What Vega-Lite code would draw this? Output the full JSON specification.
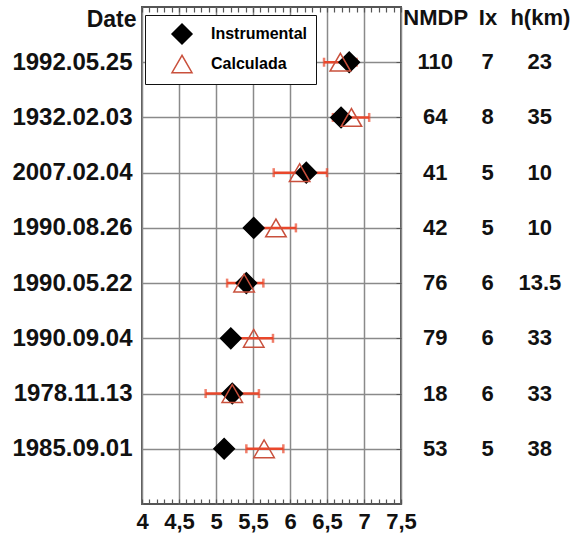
{
  "$schema": "https://vega.github.io/schema/vega-lite/v6.json",
  "background": "white",
  "padding": {"left": 5, "top": 5, "right": 5, "bottom": 0},
  "bounds": "flush",
  "spacing": 8,
  "config": {
    "font": "Liberation Sans",
    "view": {"stroke": null}
  },
  "data": {
    "values": [
      {"date": "1992.05.25", "Instrumental": 6.80, "Calculada": 6.68, "lo": 6.46, "hi": 6.90, "nmdp": 110, "ix": 7, "h": 23},
      {"date": "1932.02.03", "Instrumental": 6.69, "Calculada": 6.83, "lo": 6.58, "hi": 7.07, "nmdp": 64, "ix": 8, "h": 35},
      {"date": "2007.02.04", "Instrumental": 6.22, "Calculada": 6.13, "lo": 5.78, "hi": 6.50, "nmdp": 41, "ix": 5, "h": 10},
      {"date": "1990.08.26", "Instrumental": 5.51, "Calculada": 5.81, "lo": 5.54, "hi": 6.08, "nmdp": 42, "ix": 5, "h": 10},
      {"date": "1990.05.22", "Instrumental": 5.41, "Calculada": 5.38, "lo": 5.15, "hi": 5.64, "nmdp": 76, "ix": 6, "h": 13.5},
      {"date": "1990.09.04", "Instrumental": 5.20, "Calculada": 5.51, "lo": 5.25, "hi": 5.77, "nmdp": 79, "ix": 6, "h": 33},
      {"date": "1978.11.13", "Instrumental": 5.22, "Calculada": 5.22, "lo": 4.86, "hi": 5.58, "nmdp": 18, "ix": 6, "h": 33},
      {"date": "1985.09.01", "Instrumental": 5.11, "Calculada": 5.65, "lo": 5.41, "hi": 5.91, "nmdp": 53, "ix": 5, "h": 38}
    ]
  },
  "hconcat": [
    {
      "width": 259,
      "height": 497,
      "view": {"stroke": "#555", "strokeWidth": 2},
      "layer": [
        {
          "mark": {"type": "rule", "color": "#e9472b", "strokeWidth": 2.5},
          "encoding": {
            "y": {
              "field": "date", "type": "nominal", "sort": null,
              "scale": {"type": "point", "padding": 1},
              "axis": {
                "orient": "left", "grid": true, "gridColor": "#8a8a8a", "gridWidth": 1.5,
                "ticks": false, "domain": false,
                "labelFontSize": 24, "labelFontWeight": "bold", "labelColor": "#111", "labelPadding": 10,
                "minExtent": 136, "maxExtent": 136, "labelLimit": 200,
                "title": "Date", "titleAngle": 0, "titleAlign": "right", "titleBaseline": "middle",
                "titleX": -6, "titleY": 12, "titleFontSize": 23, "titleFontWeight": "bold", "titleColor": "#111"
              }
            },
            "x": {
              "field": "lo", "type": "quantitative",
              "scale": {"domain": [4, 7.5], "nice": false, "zero": false},
              "axis": {
                "orient": "bottom", "title": null, "domain": false,
                "values": [4,4.1,4.2,4.3,4.4,4.5,4.6,4.7,4.8,4.9,5,5.1,5.2,5.3,5.4,5.5,5.6,5.7,5.8,5.9,6,6.1,6.2,6.3,6.4,6.5,6.6,6.7,6.8,6.9,7,7.1,7.2,7.3,7.4,7.5],
                "grid": true, "gridColor": "#8a8a8a", "gridWidth": 1.5,
                "gridOpacity": {"condition": {"test": "abs(datum.value*2 - round(datum.value*2)) < 0.01", "value": 1}, "value": 0},
                "tickSize": -5, "tickColor": "#555", "tickWidth": 1.2,
                "labelExpr": "abs(datum.value*2 - round(datum.value*2)) < 0.01 ? replace(format(datum.value, '~g'), '.', ',') : ''",
                "labelOverlap": false, "labelFlush": false, "labelBound": false,
                "labelFontSize": 22, "labelFontWeight": "bold", "labelColor": "#111", "labelPadding": 12
              }
            },
            "x2": {"field": "hi"}
          }
        },
        {
          "mark": {"type": "tick", "orient": "vertical", "color": "#e9472b", "thickness": 2.5, "size": 9},
          "encoding": {
            "y": {"field": "date", "type": "nominal", "sort": null, "scale": {"type": "point", "padding": 1}, "axis": null},
            "x": {"field": "lo", "type": "quantitative", "scale": {"domain": [4, 7.5], "nice": false, "zero": false}, "axis": null}
          }
        },
        {
          "mark": {"type": "tick", "orient": "vertical", "color": "#e9472b", "thickness": 2.5, "size": 9},
          "encoding": {
            "y": {"field": "date", "type": "nominal", "sort": null, "scale": {"type": "point", "padding": 1}, "axis": null},
            "x": {"field": "hi", "type": "quantitative", "scale": {"domain": [4, 7.5], "nice": false, "zero": false}, "axis": null}
          }
        },
        {
          "transform": [{"fold": ["Instrumental", "Calculada"], "as": ["series", "mag"]}],
          "mark": {"type": "point", "size": 420, "strokeWidth": 1.5, "opacity": 1},
          "encoding": {
            "y": {
              "field": "date", "type": "nominal", "sort": null, "scale": {"type": "point", "padding": 1},
              "axis": {"orient": "right", "labels": false, "grid": false, "domain": false, "tickSize": -5, "tickColor": "#555", "title": null, "minExtent": 0, "maxExtent": 0}
            },
            "x": {
              "field": "mag", "type": "quantitative",
              "scale": {"domain": [4, 7.5], "nice": false, "zero": false},
              "axis": {
                "orient": "top", "title": null, "domain": false, "grid": false, "labels": false,
                "values": [4,4.1,4.2,4.3,4.4,4.5,4.6,4.7,4.8,4.9,5,5.1,5.2,5.3,5.4,5.5,5.6,5.7,5.8,5.9,6,6.1,6.2,6.3,6.4,6.5,6.6,6.7,6.8,6.9,7,7.1,7.2,7.3,7.4,7.5],
                "tickSize": -5, "tickColor": "#555", "tickWidth": 1.2, "minExtent": 0, "maxExtent": 0
              }
            },
            "shape": {
              "field": "series", "type": "nominal",
              "scale": {"domain": ["Instrumental", "Calculada"], "range": ["diamond", "triangle-up"]},
              "legend": {
                "orient": "none", "legendX": 3, "legendY": 8, "title": null,
                "strokeColor": "#111", "fillColor": "white",
                "padding": 8, "rowPadding": 5, "symbolSize": 400, "symbolStrokeWidth": 1.5,
                "symbolOffset": 18, "labelOffset": 18,
                "labelFontSize": 16, "labelFontWeight": "bold", "labelLimit": 300,
                "encode": {
                  "legend": {"update": {"strokeWidth": {"value": 1.5}}},
                  "labels": {"update": {"fill": {"signal": "datum.label == 'Calculada' ? '#e8412c' : '#111'"}}}
                }
              }
            },
            "fill": {
              "field": "series", "type": "nominal",
              "scale": {"domain": ["Instrumental", "Calculada"], "range": ["#000000", "transparent"]}
            },
            "stroke": {
              "field": "series", "type": "nominal",
              "scale": {"domain": ["Instrumental", "Calculada"], "range": ["#000000", "#c9503c"]}
            }
          }
        }
      ],
      "resolve": {"axis": {"x": "independent", "y": "independent"}}
    },
    {
      "width": 157,
      "height": 497,
      "transform": [{"fold": ["nmdp", "ix", "h"], "as": ["col", "val"]}],
      "mark": {"type": "text", "fontSize": 22, "fontWeight": "bold", "color": "#111"},
      "encoding": {
        "x": {
          "field": "col", "type": "nominal", "sort": ["nmdp", "ix", "h"],
          "scale": {"paddingInner": 0, "paddingOuter": 0},
          "axis": {
            "orient": "top", "title": null, "domain": false, "ticks": false, "labelAngle": 0,
            "labelFontSize": 22, "labelFontWeight": "bold", "labelColor": "#111",
            "offset": -24, "labelPadding": 2,
            "labelExpr": "datum.value == 'nmdp' ? 'NMDP' : datum.value == 'ix' ? 'Ix' : 'h(km)'"
          }
        },
        "y": {"field": "date", "type": "nominal", "sort": null, "scale": {"type": "point", "padding": 1}, "axis": null},
        "text": {"field": "val", "type": "nominal"}
      }
    }
  ]
}
